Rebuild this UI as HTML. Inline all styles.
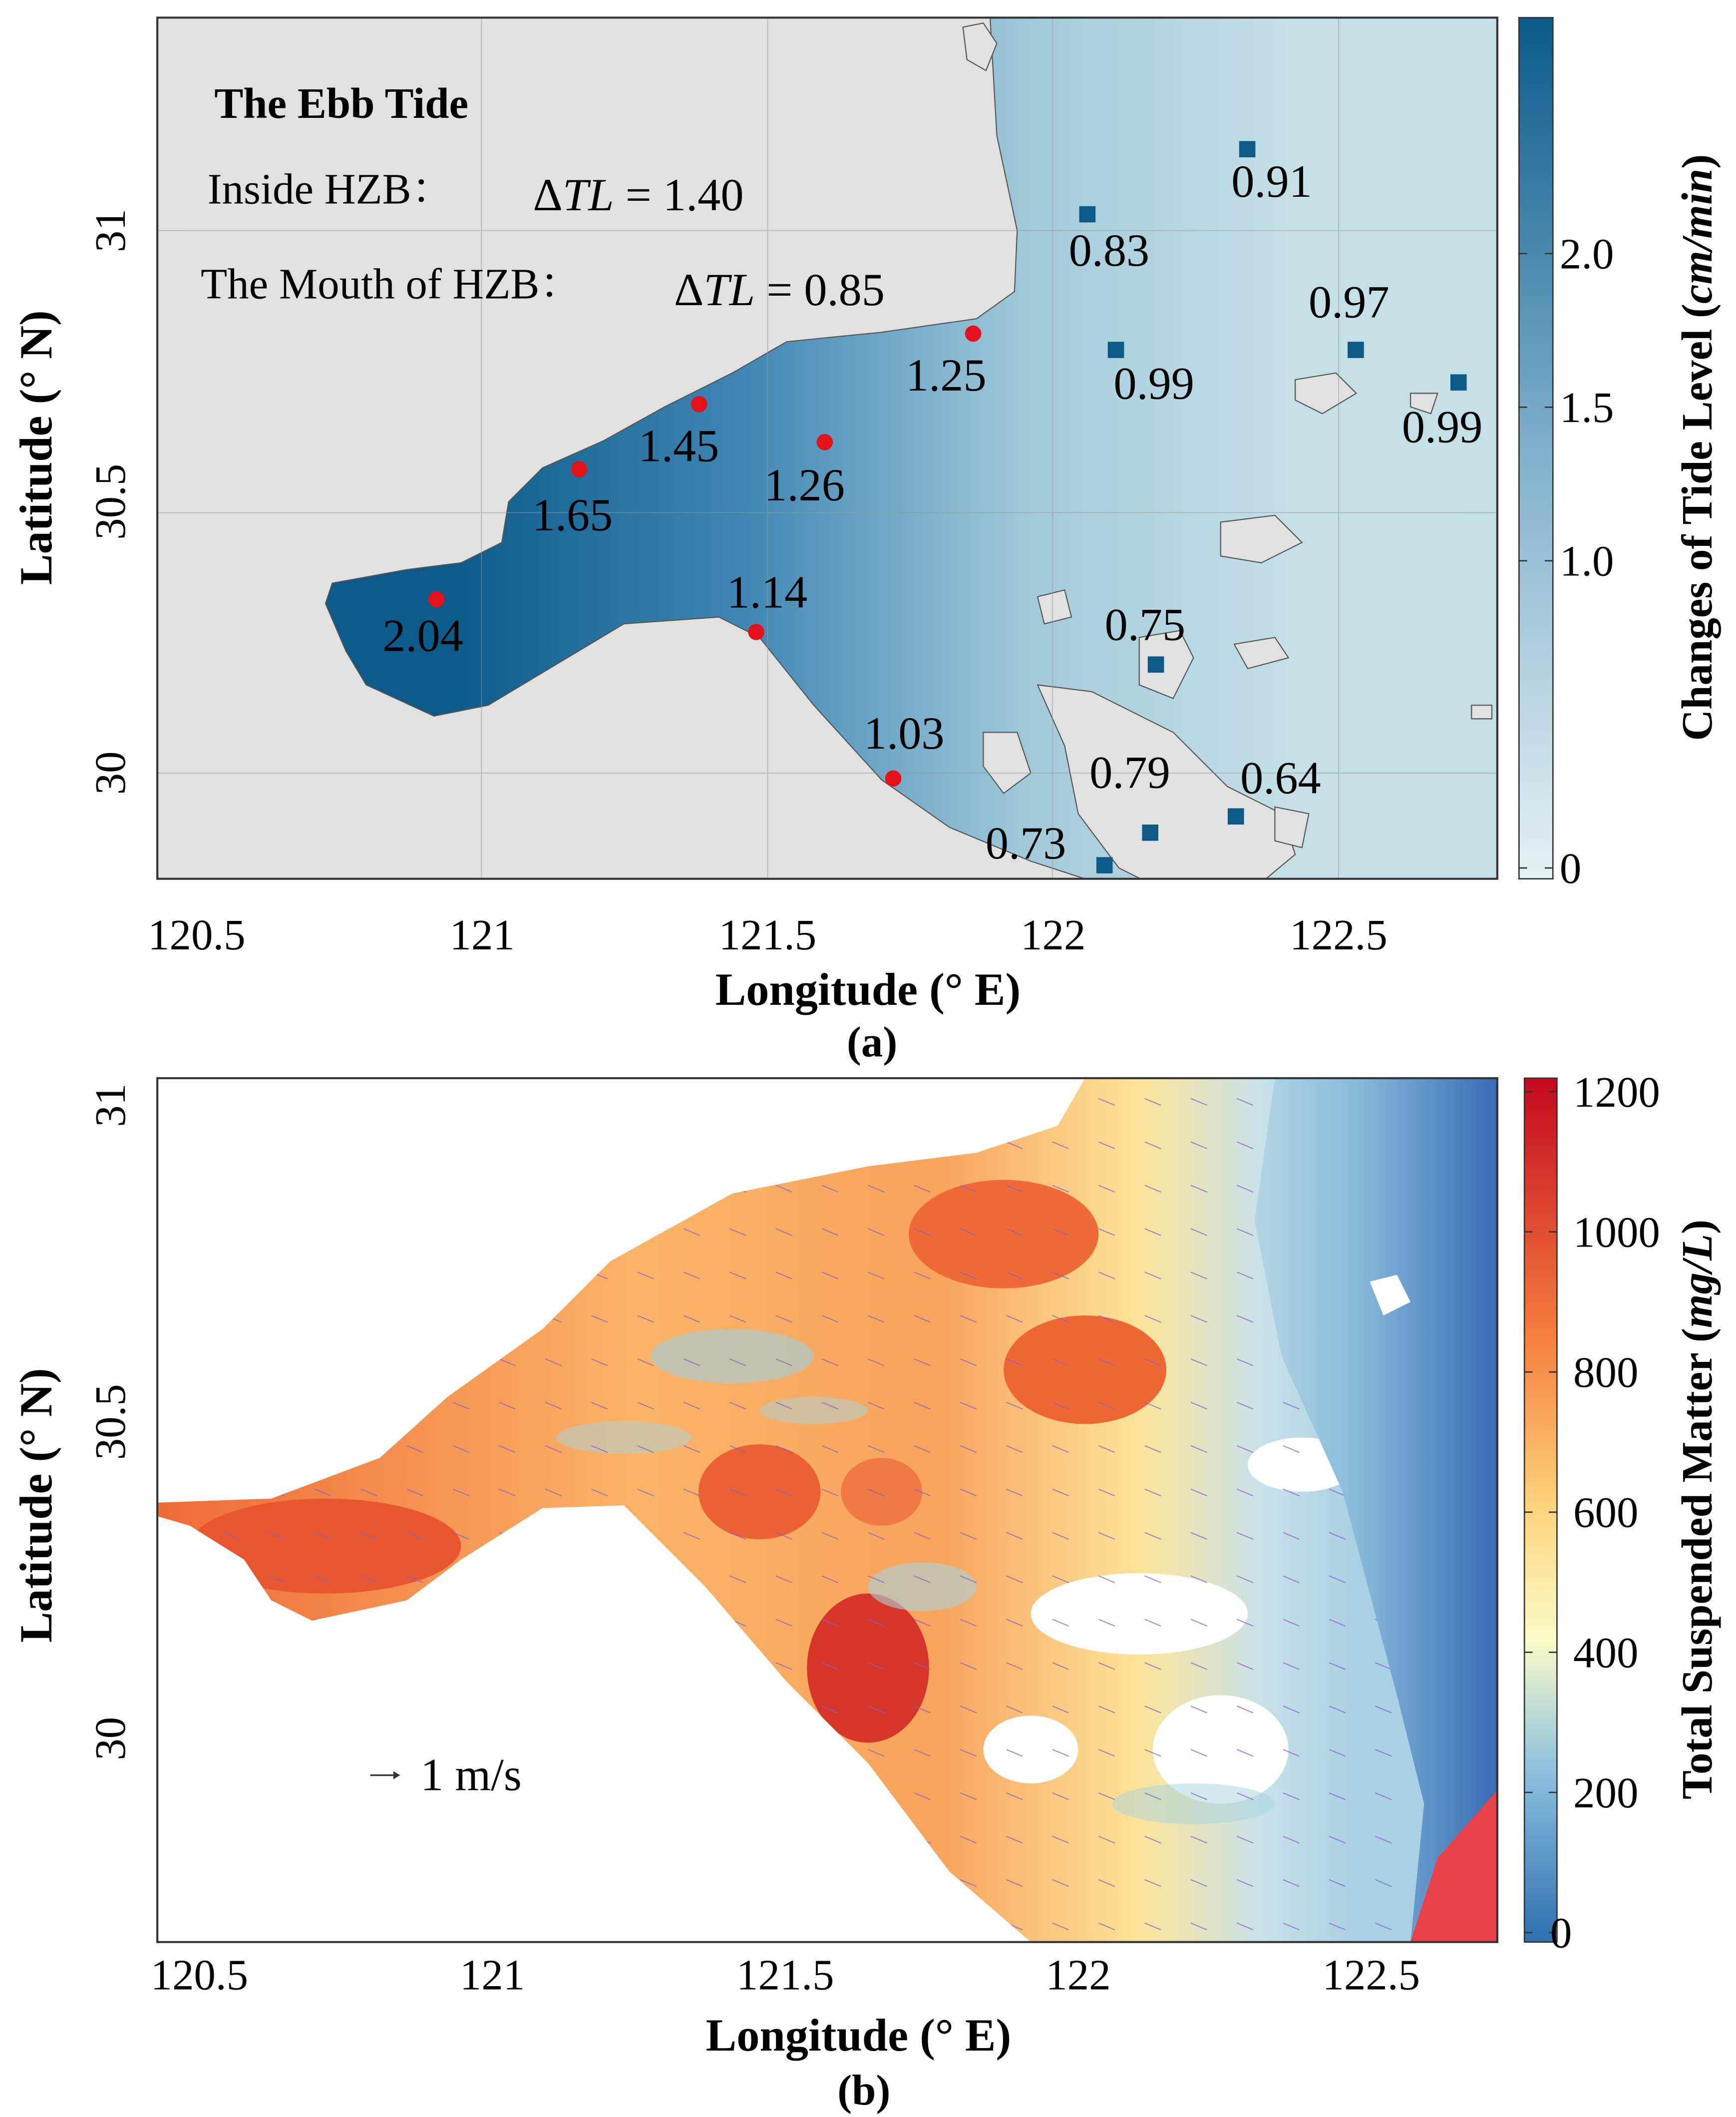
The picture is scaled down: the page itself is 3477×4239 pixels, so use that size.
<!DOCTYPE html>
<html><head><meta charset="utf-8"><style>
html,body{margin:0;padding:0;background:#fff;}
svg{display:block;}
text{font-family:"Liberation Serif","Noto Serif CJK SC",serif;fill:#000;}
</style></head><body>
<svg id="fig" width="3477" height="4239" viewBox="0 0 1280 1561" preserveAspectRatio="none" xmlns="http://www.w3.org/2000/svg">
<defs>
<linearGradient id="seaA" gradientUnits="userSpaceOnUse" x1="330" y1="0" x2="950" y2="0">
<stop offset="0" stop-color="#0b5a89"/><stop offset="0.35" stop-color="#3f86b3"/><stop offset="0.7" stop-color="#a4cbdb"/><stop offset="1" stop-color="#c4dfe6"/>
</linearGradient>
<linearGradient id="cbA" x1="0" y1="1" x2="0" y2="0">
<stop offset="0" stop-color="#e6f1f4"/><stop offset="0.5" stop-color="#7fb0cc"/><stop offset="1" stop-color="#0b5a89"/>
</linearGradient>
<linearGradient id="cbB" x1="0" y1="1" x2="0" y2="0">
<stop offset="0" stop-color="#2d6fb0"/><stop offset="0.2" stop-color="#8ec1de"/><stop offset="0.35" stop-color="#fbfbc8"/><stop offset="0.5" stop-color="#fdd57e"/><stop offset="0.7" stop-color="#f57f3f"/><stop offset="1" stop-color="#c4081f"/>
</linearGradient>
<linearGradient id="blueB" gradientUnits="userSpaceOnUse" x1="900" y1="0" x2="1104" y2="0">
<stop offset="0" stop-color="#c2dfe9"/><stop offset="0.5" stop-color="#86bad9"/><stop offset="1" stop-color="#3a6bb6"/>
</linearGradient>
<linearGradient id="plume" gradientUnits="userSpaceOnUse" x1="116" y1="0" x2="1000" y2="0">
<stop offset="0" stop-color="#ee6a37"/><stop offset="0.4" stop-color="#fbb468"/><stop offset="0.65" stop-color="#f8a35c"/><stop offset="0.82" stop-color="#fde49a"/><stop offset="0.92" stop-color="#c9e2ea"/><stop offset="1" stop-color="#a9d0e3"/>
</linearGradient>
<clipPath id="clipA"><rect x="116" y="13" width="988" height="635"/></clipPath>
<clipPath id="clipB"><rect x="116" y="795" width="988" height="637"/></clipPath>
<clipPath id="plumeClip"><polygon id="plumePts" points="116,1108 200,1105 280,1075 330,1030 400,980 450,930 540,880 640,860 720,850 780,830 800,795 940,795 925,900 945,1000 990,1100 1030,1250 1050,1330 1040,1432 760,1432 700,1380 640,1300 580,1240 520,1170 460,1110 400,1112 340,1150 300,1180 230,1195 200,1180 180,1150 140,1125 116,1118"/></clipPath>
</defs>

<g clip-path="url(#clipA)">
<rect x="116" y="13" width="988" height="635" fill="#e1e1e1"/>
<polygon fill="url(#seaA)" stroke="#555" stroke-width="0.8" points="730,13 1104,13 1104,648 800,648 760,635 700,610 650,575 600,520 560,470 530,455 460,460 410,490 360,520 320,528 270,505 255,480 240,445 245,430 300,420 340,415 370,400 375,370 400,345 445,325 490,300 540,275 580,252 650,245 720,235 748,215 750,170 735,100"/>
<g fill="#e1e1e1" stroke="#555" stroke-width="0.8">
<path d="M710,20 l15,-3 l10,15 l-8,20 l-14,-8z"/>
<path d="M765,440 l20,-5 l5,20 l-20,5z"/>
<path d="M840,470 l30,-5 l10,20 l-15,30 l-25,-10z"/>
<path d="M765,505 l40,5 l60,30 l40,40 l40,20 l10,30 l-30,25 l-60,5 l-40,-20 l-30,-40 l-10,-50z"/>
<path d="M725,540 l25,0 l10,30 l-20,15 l-15,-20z"/>
<path d="M900,385 l40,-5 l20,20 l-30,15 l-30,-5z"/>
<path d="M955,280 l30,-5 l15,15 l-25,15 l-20,-10z"/>
<path d="M910,475 l30,-5 l10,15 l-30,8z"/>
<path d="M940,595 l25,5 l-5,25 l-20,-5z"/>
<path d="M1040,290 l20,0 l-5,15 l-15,-5z"/>
<path d="M1085,520 l15,0 l0,10 l-15,0z"/>
</g>
<g stroke="#999" stroke-width="0.6" opacity="0.6">
<line x1="355" y1="13" x2="355" y2="648"/><line x1="566" y1="13" x2="566" y2="648"/><line x1="776" y1="13" x2="776" y2="648"/><line x1="987" y1="13" x2="987" y2="648"/>
<line x1="116" y1="170" x2="1104" y2="170"/><line x1="116" y1="378" x2="1104" y2="378"/><line x1="116" y1="570" x2="1104" y2="570"/>
</g>
<g id="marksA"></g>
</g>
<rect x="116" y="13" width="988" height="635" fill="none" stroke="#333" stroke-width="1.5"/>
<text x="158" y="87" font-size="32" font-weight="bold">The Ebb Tide</text>
<text x="153" y="150" font-size="32">Inside HZB：</text>
<text x="393" y="155" font-size="34">Δ<tspan font-style="italic">TL</tspan> = 1.40</text>
<text x="148" y="220" font-size="32">The Mouth of HZB：</text>
<text x="497" y="225" font-size="34">Δ<tspan font-style="italic">TL</tspan> = 0.85</text>
<g id="axesA"></g>
<rect x="1120" y="13" width="25" height="635" fill="url(#cbA)" stroke="#333" stroke-width="1"/>
<g id="cbTicksA"></g>
<text transform="translate(1262,330) rotate(-90)" text-anchor="middle" font-size="32" font-weight="bold">Changes of Tide Level (<tspan font-style="italic">cm/min</tspan>)</text>
<text x="640" y="741" text-anchor="middle" font-size="34" font-weight="bold">Longitude (° E)</text>
<text transform="translate(38,330) rotate(-90)" text-anchor="middle" font-size="34" font-weight="bold">Latitude (° N)</text>
<text x="643" y="779" text-anchor="middle" font-size="32" font-weight="bold">(a)</text>

<g clip-path="url(#clipB)">
<rect x="116" y="795" width="988" height="637" fill="#fff"/>
<polygon fill="url(#blueB)" points="900,795 1104,795 1104,1432 1000,1432 1020,1300 980,1150 930,1000 900,900"/>
<polygon fill="#e8414a" points="1104,1320 1104,1432 1040,1432 1060,1370"/>
<use href="#plumePts" fill="url(#plume)"/>
<g clip-path="url(#plumeClip)">
<ellipse cx="740" cy="910" rx="70" ry="40" fill="#ef6a36"/>
<ellipse cx="800" cy="1010" rx="60" ry="40" fill="#ee6632"/>
<ellipse cx="560" cy="1100" rx="45" ry="35" fill="#ec6131"/>
<ellipse cx="640" cy="1230" rx="45" ry="55" fill="#d8352a"/>
<ellipse cx="240" cy="1140" rx="100" ry="35" fill="#e85630"/>
<ellipse cx="650" cy="1100" rx="30" ry="25" fill="#f07a44"/>
<ellipse cx="840" cy="1190" rx="80" ry="30" fill="#fff"/>
<ellipse cx="760" cy="1290" rx="35" ry="25" fill="#fff"/>
<ellipse cx="900" cy="1290" rx="50" ry="40" fill="#fff"/>
<ellipse cx="960" cy="1080" rx="40" ry="20" fill="#fff"/>
<ellipse cx="540" cy="1000" rx="60" ry="20" fill="#9fd0dd" opacity="0.6"/>
<ellipse cx="680" cy="1170" rx="40" ry="18" fill="#a8d3dc" opacity="0.6"/>
<ellipse cx="460" cy="1060" rx="50" ry="12" fill="#a8d3dc" opacity="0.5"/>
<ellipse cx="600" cy="1040" rx="40" ry="10" fill="#a8d3dc" opacity="0.5"/>
<ellipse cx="880" cy="1330" rx="60" ry="15" fill="#a8d3dc" opacity="0.5"/>
<g id="arrowsB"></g>
</g>
<polygon fill="#fff" points="1010,945 1030,940 1040,960 1020,970"/>
</g>
<rect x="116" y="795" width="988" height="637" fill="none" stroke="#333" stroke-width="1.5"/>
<text x="310" y="1320" font-size="34">1 m/s</text>
<line x1="273" y1="1309" x2="290" y2="1309" stroke="#333" stroke-width="1.2"/>
<polygon points="290,1306 295,1309 290,1312" fill="#333"/>
<g id="axesB"></g>
<rect x="1124" y="795" width="24" height="637" fill="url(#cbB)" stroke="#333" stroke-width="1"/>
<g id="cbTicksB"></g>
<text transform="translate(1262,1113) rotate(-90)" text-anchor="middle" font-size="32" font-weight="bold">Total Suspended Matter (<tspan font-style="italic">mg/L</tspan>)</text>
<text x="633" y="1512" text-anchor="middle" font-size="34" font-weight="bold">Longitude (° E)</text>
<text transform="translate(38,1110) rotate(-90)" text-anchor="middle" font-size="34" font-weight="bold">Latitude (° N)</text>
<text x="637" y="1552" text-anchor="middle" font-size="32" font-weight="bold">(b)</text>
</svg>
<script>
const xTicksA = [120.5, 121, 121.5, 122, 122.5];
const yTicksA = [30, 30.5, 31];
const cbTicksAVals = [0, 1.0, 1.5, 2.0];
const xTicksB = [120.5, 121, 121.5, 122, 122.5];
const yTicksB = [30, 30.5, 31];
const cbTicksBVals = [0, 200, 400, 600, 800, 1000, 1200];
const insideLon = [120.92, 121.17, 121.38, 121.60, 121.86, 121.48, 121.72];
const insideLat = [30.32, 30.56, 30.68, 30.61, 30.81, 30.26, 29.99];
const insideVal = ["2.04", "1.65", "1.45", "1.26", "1.25", "1.14", "1.03"];
const mouthLon = [122.34, 122.06, 122.11, 122.53, 122.71, 122.18, 122.32, 122.17, 122.09];
const mouthLat = [31.15, 31.03, 30.78, 30.78, 30.72, 30.20, 29.92, 29.89, 29.83];
const mouthVal = ["0.91", "0.83", "0.99", "0.97", "0.99", "0.75", "0.64", "0.79", "0.73"];
const insideOff = [[-10,38],[-5,45],[-15,42],[-15,43],[-20,42],[8,-18],[8,-22]];
const mouthOff = [[18,35],[16,38],[28,36],[-5,-24],[-12,44],[-8,-18],[33,-17],[-15,-33],[-58,-5]];

const NS="http://www.w3.org/2000/svg";
function mk(tag, attrs, parent){const e=document.createElementNS(NS,tag);for(const k in attrs)e.setAttribute(k,attrs[k]);parent.appendChild(e);return e;}
const xA = lon => 145 + (lon-120.5)*421;
const yA = lat => 170 + (31-lat)*400;
const xB = lon => 147 + (lon-120.5)*432;
const yB = lat => 815 + (31-lat)*467;
const cbA = v => 640 - v*(640-187)/2.0;
const cbB = v => 1425 - v*(1425-805)/1200;

const axA=document.getElementById('axesA');
xTicksA.forEach(t=>{const tx=mk('text',{x:xA(t),y:700,'text-anchor':'middle','font-size':32},axA);tx.textContent=t;

});
yTicksA.forEach(t=>{const tx=mk('text',{transform:`translate(92,${yA(t)}) rotate(-90)`,'text-anchor':'middle','font-size':32},axA);tx.textContent=t;

});
const cta=document.getElementById('cbTicksA');
cbTicksAVals.forEach(v=>{mk('line',{x1:1120,x2:1126,y1:cbA(v),y2:cbA(v),stroke:'#333'},cta);mk('line',{x1:1139,x2:1145,y1:cbA(v),y2:cbA(v),stroke:'#333'},cta);
const tx=mk('text',{x:1150,y:cbA(v)+11,'font-size':32},cta);tx.textContent=v===0?'0':v.toFixed(1);

});

const mA=document.getElementById('marksA');
insideVal.forEach((v,i)=>{const cx=xA(insideLon[i]),cy=yA(insideLat[i]);
const c=mk('circle',{cx:cx,cy:cy,r:6,fill:'#e3121a'},mA);


const t=mk('text',{x:cx+insideOff[i][0],y:cy+insideOff[i][1],'text-anchor':'middle','font-size':34},mA);t.textContent=v;

});
mouthVal.forEach((v,i)=>{const cx=xA(mouthLon[i]),cy=yA(mouthLat[i]);
const r=mk('rect',{x:cx-6,y:cy-6,width:12,height:12,fill:'#0d5a89'},mA);


const t=mk('text',{x:cx+mouthOff[i][0],y:cy+mouthOff[i][1],'text-anchor':'middle','font-size':34},mA);t.textContent=v;

});

const axB=document.getElementById('axesB');
xTicksB.forEach(t=>{const tx=mk('text',{x:xB(t),y:1467,'text-anchor':'middle','font-size':32},axB);tx.textContent=t;

});
yTicksB.forEach(t=>{const tx=mk('text',{transform:`translate(92,${yB(t)}) rotate(-90)`,'text-anchor':'middle','font-size':32},axB);tx.textContent=t;

});
const ctb=document.getElementById('cbTicksB');
cbTicksBVals.forEach(v=>{mk('line',{x1:1124,x2:1130,y1:cbB(v),y2:cbB(v),stroke:'#333'},ctb);mk('line',{x1:1142,x2:1148,y1:cbB(v),y2:cbB(v),stroke:'#333'},ctb);
const tx=mk('text',{x:v===0?1143:1160,y:cbB(v)+11,'font-size':32},ctb);tx.textContent=v;

});

const ar=document.getElementById('arrowsB');
for(let x=130;x<1100;x+=34){for(let y=810;y<1430;y+=32){
const ln=mk('line',{x1:x,y1:y,x2:x+12,y2:y+5,stroke:'#8a5fc8','stroke-width':0.8,opacity:0.7},ar);

}}
</script>
</body></html>
